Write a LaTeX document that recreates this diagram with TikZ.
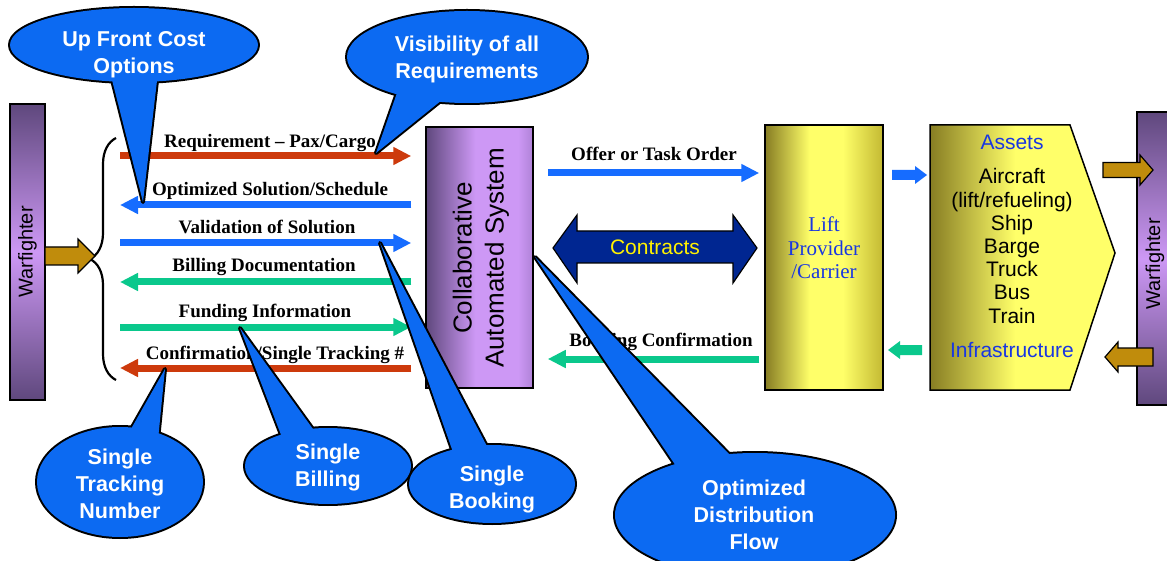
\documentclass[tikz,border=0pt]{standalone}
\usepackage{fontspec}
\setmainfont{Liberation Serif}
\newfontfamily\arial{Liberation Sans}
\usetikzlibrary{arrows.meta,decorations.pathreplacing,calc}

\definecolor{cred}{RGB}{205,58,12}
\definecolor{cblue}{RGB}{22,108,255}
\definecolor{cteal}{RGB}{10,200,140}
\definecolor{callblue}{RGB}{12,106,242}
\definecolor{navy}{RGB}{0,38,145}
\definecolor{gold}{RGB}{192,140,12}
\definecolor{purD}{RGB}{95,72,125}
\definecolor{purL}{RGB}{205,152,245}
\definecolor{purM}{RGB}{175,130,215}
\definecolor{olive}{RGB}{135,125,35}
\definecolor{yelL}{RGB}{255,255,105}
\definecolor{yelM}{RGB}{195,185,50}
\definecolor{infoblue}{RGB}{25,55,225}

\pgfdeclarehorizontalshading{liftshade}{100bp}{color(0bp)=(olive); color(25bp)=(olive); color(44bp)=(yelL); color(58bp)=(yelL); color(75bp)=(yelM); color(100bp)=(yelM)}
\pgfdeclarehorizontalshading{assetshade}{100bp}{color(0bp)=(olive); color(25bp)=(olive); color(48bp)=(yelL); color(75bp)=(yelL); color(100bp)=(yelL)}
\pgfdeclarehorizontalshading{casshade}{100bp}{color(0bp)=(purD); color(25bp)=(purD); color(48bp)=(purL); color(68bp)=(purL); color(75bp)=(purM); color(100bp)=(purM)}

\newcommand\blkarrow[7]{%
  \filldraw[#1] (#2,#5-#6) -- (#3,#5-#6) -- (#3,#5-#7) -- (#4,#5) -- (#3,#5+#7) -- (#3,#5+#6) -- (#2,#5+#6) -- cycle;}

\tikzset{
  box/.style={draw=black, line width=1.5pt, inner sep=0pt},
  arr/.style={line width=7pt, -{Triangle[length=18pt,width=17pt]}},
  lbl/.style={font=\bfseries\fontsize{19}{22}\selectfont, anchor=base, inner sep=0pt},
  cout/.style={draw=black, line width=4pt, line join=round, fill=callblue},
  ctext/.style={text=white, font=\arial\bfseries\fontsize{21.5}{27}\selectfont, align=center, inner sep=0pt},
  golda/.style={fill=gold, draw=black, line width=1.2pt},
}

\newcommand\callout[9]{% name, cx, cy, rx, ry, tipx, tipy, base1, base2
  \coordinate (#1c) at (#2,#3);
  \coordinate (#1tip) at (#6,#7);
  \path[cout] (#1c) ellipse [x radius=#4, y radius=#5];
  \path[cout] (#1tip) -- #8 -- #9 -- cycle;
  \fill[callblue] (#1c) ellipse [x radius=#4, y radius=#5];
  \fill[callblue] (#1tip) -- #8 -- #9 -- cycle;
}

\begin{document}
\begin{tikzpicture}[x=1pt, y=-1pt]
\useasboundingbox (0,0) rectangle (1167,561);
\clip (0,0) rectangle (1167,561);
\fill[white] (0,0) rectangle (1167,561);

% boxes
\node[box, top color=purD, bottom color=purD, middle color=purL, minimum width=35, minimum height=296] (wfl) at (27.5,252) {};
\node[rotate=90, font=\arial\fontsize{20}{24}\selectfont] (wfltxt) at (27.5,252) {Warfighter};

\node[box, shade, shading=casshade, minimum width=107, minimum height=261] (cas) at (479.5,257.5) {};
\node[rotate=90, font=\arial\fontsize{26}{32}\selectfont, align=center] (castxt) at (481,258) {Collaborative\\Automated System};

\node[box, shade, shading=liftshade, minimum width=118, minimum height=265] (lift) at (824,257.5) {};
\node[font=\fontsize{21}{23.5}\selectfont, text=infoblue, align=center] (lifttxt) at (824,248) {Lift\\Provider\\/Carrier};

\coordinate (as1) at (930,125);
\coordinate (as2) at (1070,125);
\coordinate (as3) at (1115,253);
\coordinate (as4) at (1070,390);
\coordinate (as5) at (930,390);
\shade[shading=assetshade] (as1) -- (as2) -- (as3) -- (as4) -- (as5) -- cycle;
\draw[line width=1.5pt, line join=miter] (as1) -- (as2) -- (as3) -- (as4) -- (as5) -- cycle;
\node[font=\arial\fontsize{21}{23}\selectfont, text=infoblue] (assets) at (1012,142) {Assets};
\node[font=\arial\fontsize{21}{23.2}\selectfont, align=center] (assetlist) at (1012,246) {Aircraft\\(lift/refueling)\\Ship\\Barge\\Truck\\Bus\\Train};
\node[font=\arial\fontsize{21}{23}\selectfont, text=infoblue] (infra) at (1012,350) {Infrastructure};

\node[box, top color=purD, bottom color=purD, middle color=purL, minimum width=40, minimum height=293] (wfr) at (1157,258.5) {};
\node[rotate=90, font=\arial\fontsize{20}{24}\selectfont] (wfrtxt) at (1155,264) {Warfighter};

% brace and gold arrows
\draw[line width=2.2pt, decorate, decoration={brace, amplitude=26pt}] (116,380) -- (116,138);
\blkarrow{golda}{45}{78}{95}{256}{9}{17}
\blkarrow{golda}{1103}{1140}{1153}{170}{7.5}{15}
\blkarrow{golda}{1153}{1118}{1105}{357}{9}{15}

% left arrows
\coordinate (L) at (120,256);
\coordinate (R) at ($(cas.west)+(-14,0)$);
\draw[arr, cred]  (L |- 0,156) -- (R |- 0,156);
\draw[arr, cblue] (R |- 0,205) -- (L |- 0,205);
\draw[arr, cblue] (L |- 0,243) -- (R |- 0,243);
\draw[arr, cteal] (R |- 0,282) -- (L |- 0,282);
\draw[arr, cteal] (L |- 0,327) -- (R |- 0,327);
\draw[arr, cred]  (R |- 0,368) -- (L |- 0,368);

\node[lbl] (l1) at (270,148) {Requirement -- Pax/Cargo};
\node[lbl] (l2) at (270,196) {Optimized Solution/Schedule};
\node[lbl] (l3) at (267,234) {Validation of Solution};
\node[lbl] (l4) at (264,272) {Billing Documentation};
\node[lbl] (l5) at (265,317) {Funding Information};
\node[lbl] (l6) at (275,359) {Confirmation/Single Tracking \#};

% middle arrows
\coordinate (C2) at ($(cas.east)+(14,0)$);
\coordinate (L2) at ($(lift.west)+(-5,0)$);
\draw[arr, cblue] (C2 |- 0,173) -- (L2 |- 0,173);
\draw[arr, cteal] (L2 |- 0,359) -- (C2 |- 0,359);
\node[lbl] (l7) at (654,161) {Offer or Task Order};
\node[lbl] (l8) at (661,346) {Booking Confirmation};

\filldraw[fill=navy, draw=black, line width=1.2pt] (553,248) -- (577,215) -- (577,231) -- (733,231) -- (733,215) -- (757,248) -- (733,283) -- (733,263) -- (577,263) -- (577,283) -- cycle;
\node[font=\arial\fontsize{21}{24}\selectfont, text=yellow] (ctr) at (655,247) {Contracts};

\blkarrow{cblue, draw=none}{892}{915}{927}{175}{5}{9}
\blkarrow{cteal, draw=none}{922}{900}{888}{350}{5}{9}

% callouts
\callout{uf}{134}{45}{124}{37}{143}{202}{(110,72)}{(158,72)}
\node[ctext] (uft) at (134,55) {Up Front Cost\\Options};
\callout{vis}{467}{57}{120}{46}{376}{153}{(398,90)}{(447,96)}
\node[ctext] (vist) at (467,59) {Visibility of all\\Requirements};
\callout{st}{120}{482}{83}{55}{165}{369}{(127,436)}{(158,440)}
\node[ctext] (stt) at (120,484) {Single\\Tracking\\Number};
\callout{sbi}{328}{466}{83}{38}{240}{328}{(283,440)}{(318,436)}
\node[ctext] (sbit) at (328,467) {Single\\Billing};
\callout{sbo}{492}{484}{83}{39}{380}{243}{(455,458)}{(490,452)}
\node[ctext] (sbot) at (492,489) {Single\\Booking};
\callout{odf}{755}{515}{140}{62}{535}{257}{(680,472)}{(735,460)}
\node[ctext] (odft) at (754,515) {Optimized\\Distribution\\Flow};
\end{tikzpicture}
\end{document}
